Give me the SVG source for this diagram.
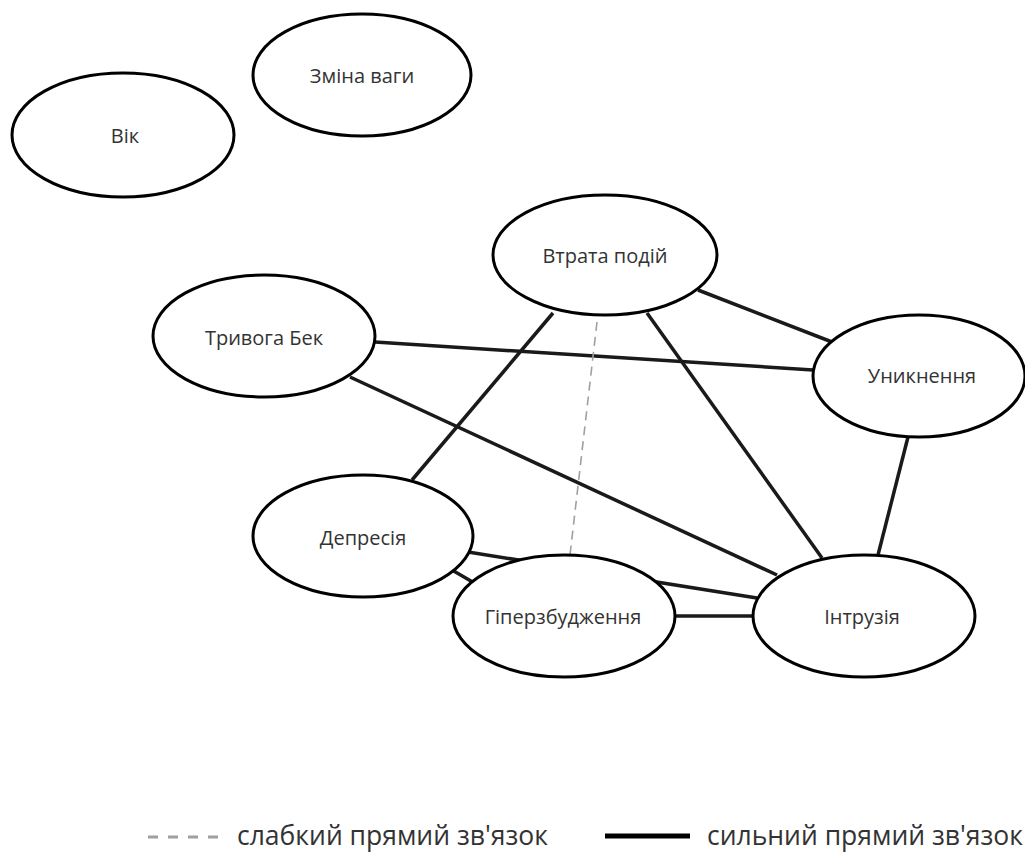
<svg xmlns="http://www.w3.org/2000/svg" width="1025" height="857" viewBox="0 0 1025 857">
<style>
.node ellipse{fill:#fff;stroke:#000;stroke-width:3}
.node text{font-family:"Open Sans","Noto Sans","DejaVu Sans",sans-serif;font-size:20px;fill:#333;text-anchor:middle;dominant-baseline:central}
.strong{stroke:#1a1a1a;stroke-width:3.5;stroke-linecap:butt}
.weak{stroke:#a0a0a0;stroke-width:1.6;stroke-dasharray:9 6}
.leg{font-family:"Open Sans","Noto Sans","DejaVu Sans",sans-serif;font-size:26.5px;fill:#333;dominant-baseline:central}
</style>
<rect width="1025" height="857" fill="#fff"/>
<g id="connectors">
<line class="strong" x1="375" y1="342" x2="813" y2="370"/>
<line class="strong" x1="350" y1="377" x2="777" y2="575"/>
<line class="strong" x1="698" y1="290" x2="832" y2="342"/>
<line class="strong" x1="553" y1="313" x2="412" y2="480"/>
<line class="strong" x1="647" y1="313" x2="822" y2="558"/>
<line class="strong" x1="908" y1="437" x2="878" y2="555"/>
<line class="strong" x1="468" y1="552" x2="757" y2="598"/>
<line class="strong" x1="452" y1="570" x2="476" y2="584"/>
<line class="strong" x1="673" y1="616" x2="755" y2="616"/>
<line class="weak" x1="597" y1="322" x2="570" y2="555"/>
</g>
<g id="vik" class="node"><ellipse cx="123" cy="135" rx="111" ry="62"/><text x="125" y="135">Вік</text></g>
<g id="zmina-vahy" class="node"><ellipse cx="362" cy="75" rx="109" ry="61"/><text x="362" y="75">Зміна ваги</text></g>
<g id="vtrata-podii" class="node"><ellipse cx="605" cy="255" rx="112" ry="60"/><text x="605" y="255">Втрата подій</text></g>
<g id="tryvoha-bek" class="node"><ellipse cx="264" cy="336" rx="111" ry="61"/><text x="264" y="337">Тривога Бек</text></g>
<g id="unyknennia" class="node"><ellipse cx="919" cy="376" rx="106" ry="61"/><text x="922" y="375">Уникнення</text></g>
<g id="depresiia" class="node"><ellipse cx="363" cy="536" rx="110" ry="61"/><text x="363" y="537">Депресія</text></g>
<g id="hiperzbudzhennia" class="node"><ellipse cx="564" cy="616" rx="111" ry="61"/><text x="563" y="616">Гіперзбудження</text></g>
<g id="intruziia" class="node"><ellipse cx="864" cy="616" rx="111" ry="61"/><text x="862" y="616">Інтрузія</text></g>
<g id="legend">
<line x1="148" y1="837" x2="218" y2="837" stroke="#a0a0a0" stroke-width="3" stroke-dasharray="10 10"/>
<text class="leg" x="237" y="835">слабкий прямий зв'язок</text>
<line x1="605" y1="836" x2="690" y2="836" stroke="#000" stroke-width="5"/>
<text class="leg" x="707" y="835">сильний прямий зв'язок</text>
</g>
</svg>
